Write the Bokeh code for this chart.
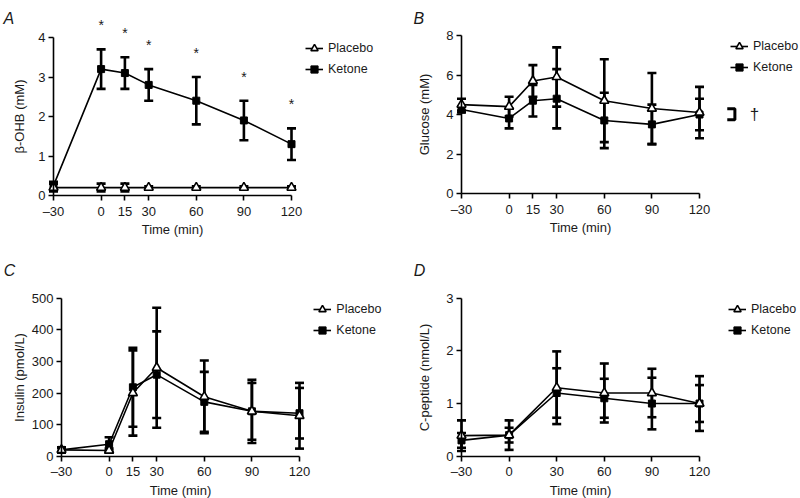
from bokeh.plotting import figure
from bokeh.layouts import gridplot
from bokeh.models import Range1d, FixedTicker, Legend, LegendItem, Label
from bokeh.core.properties import value
from bokeh.embed import file_html
from bokeh.resources import INLINE

# ---------------- data ----------------
times = [-30, 0, 15, 30, 60, 90, 120]
time_ticks = [-30, 0, 15, 30, 60, 90, 120]

bohb_placebo = [0.2, 0.2, 0.2, 0.2, 0.2, 0.2, 0.2]
bohb_placebo_err = [0.1, 0.1, 0.1, 0.03, 0.03, 0.03, 0.03]
bohb_ketone = [0.25, 3.2, 3.1, 2.8, 2.4, 1.9, 1.3]
bohb_ketone_err = [0.1, 0.5, 0.4, 0.4, 0.6, 0.5, 0.4]
bohb_sig_times = [0, 15, 30, 60, 90, 120]

glucose_placebo = [4.5, 4.4, 5.7, 5.9, 4.7, 4.3, 4.1]
glucose_placebo_err = [0.3, 0.5, 0.8, 1.5, 2.1, 1.8, 1.3]
glucose_ketone = [4.25, 3.8, 4.7, 4.8, 3.7, 3.5, 4.0]
glucose_ketone_err = [0.15, 0.5, 0.8, 1.5, 1.4, 1.0, 0.8]
glucose_bracket_x = [137.5, 142.3, 142.3, 137.5]
glucose_bracket_y = [4.29, 4.29, 3.73, 3.73]
glucose_dagger = (154.7, 3.98, "\u2020")

insulin_placebo = [20, 18, 200, 280, 188, 142, 128]
insulin_placebo_err = [8, 6, 135, 190, 115, 100, 104]
insulin_ketone = [20, 38, 218, 258, 172, 142, 136]
insulin_ketone_err = [8, 22, 125, 137, 95, 90, 80]

cpep_times = [-30, 0, 30, 60, 90, 120]
cpep_ticks = [-30, 0, 30, 60, 90, 120]
cpep_placebo = [0.39, 0.40, 1.30, 1.20, 1.20, 1.00]
cpep_placebo_err = [0.29, 0.28, 0.69, 0.56, 0.46, 0.52]
cpep_ketone = [0.30, 0.40, 1.20, 1.10, 1.00, 1.00]
cpep_ketone_err = [0.14, 0.14, 0.47, 0.37, 0.49, 0.35]

# ---------------- geometry (reference pixel -> figure pixel) ----------------
COL_X = [0, 400]
COL_W = [400, 400]
ROW_Y = [0, 250]
ROW_H = [250, 248]
FONT = "Liberation Sans"
TICK_FS = "13px"
LEG_FS = "12.5px"


def make_panel(letter, row, col, ref, yticks, ymax, ylabel, xticks,
               ylab_standoff, legend_ref, letter_ref):
    W, H = COL_W[col], ROW_H[row]
    xoff, yoff = COL_X[col], ROW_Y[row]
    ax = ref["ax"] - xoff
    bx = ref["bx"] - xoff
    c = ref["c"] - yoff
    d = ref["d"] - yoff
    k = (bx - ax) / 150.0
    ky = (c - d) / ymax
    x0 = -30 - ax / k
    x1 = 120 + (W - bx) / k
    y0 = -(H - c) / ky
    y1 = ymax + d / ky
    p = figure(width=W, height=H, output_backend="svg", toolbar_location=None,
               x_range=Range1d(x0, x1), y_range=Range1d(y0, y1),
               min_border_left=0, min_border_right=0,
               min_border_top=0, min_border_bottom=0)
    p.outline_line_color = None
    p.xgrid.visible = False
    p.ygrid.visible = False
    for axis in (p.xaxis[0], p.yaxis[0]):
        axis.axis_line_width = 1.6
        axis.axis_line_color = "black"
        axis.major_tick_line_width = 1.6
        axis.major_tick_line_color = "black"
        axis.major_tick_in = 0
        axis.major_tick_out = 5
        axis.minor_tick_line_color = None
        axis.major_label_text_font = FONT
        axis.major_label_text_font_size = TICK_FS
        axis.major_label_text_color = "#1a1a1a"
        axis.axis_label_text_font = FONT
        axis.axis_label_text_font_size = TICK_FS
        axis.axis_label_text_font_style = "normal"
        axis.axis_label_text_color = "#1a1a1a"
        axis.major_label_standoff = 3
    p.xaxis[0].ticker = FixedTicker(ticks=xticks)
    p.xaxis[0].bounds = (-30, 120)
    p.xaxis[0].fixed_location = 0
    p.xaxis[0].axis_label = "Time (min)"
    p.xaxis[0].axis_label_standoff = 0
    p.xaxis[0].major_label_overrides = {-30: "\u201330"}
    p.yaxis[0].ticker = FixedTicker(ticks=yticks)
    p.yaxis[0].bounds = (0, ymax)
    p.yaxis[0].fixed_location = -30
    p.yaxis[0].axis_label = ylabel
    p.yaxis[0].axis_label_standoff = ylab_standoff

    # legend position (screen, from frame bottom-left)
    lgx = legend_ref[0] - xoff
    top = legend_ref[1] - yoff - 9
    p._leg_loc = (lgx, H - (top + 39))
    # panel letter
    lx = letter_ref[0] - xoff
    ly = letter_ref[1] - yoff
    p.add_layout(Label(x=lx, y=H - ly, x_units="screen", y_units="screen",
                       text=letter, text_font=FONT, text_font_size="16px",
                       text_font_style="italic", text_color="#1a1a1a",
                       text_baseline="alphabetic"))
    return p


def add_series(p, xs, placebo, perr, ketone, kerr):
    up_p = [v + e for v, e in zip(placebo, perr)]
    lo_p = [v - e for v, e in zip(placebo, perr)]
    up_k = [v + e for v, e in zip(ketone, kerr)]
    lo_k = [v - e for v, e in zip(ketone, kerr)]
    for up, lo in ((up_p, lo_p), (up_k, lo_k)):
        p.segment(x0=xs, y0=lo, x1=xs, y1=up, line_color="black", line_width=2.6)
        p.scatter(x=xs, y=up, marker="dash", size=9, line_color="black", line_width=2.6)
        p.scatter(x=xs, y=lo, marker="dash", size=9, line_color="black", line_width=2.6)
    lp = p.line(xs, placebo, line_color="black", line_width=1.6)
    lk = p.line(xs, ketone, line_color="black", line_width=1.6)
    mk = p.scatter(xs, ketone, marker="square", size=7, fill_color="black",
                   line_color="black", line_width=1)
    mp = p.scatter(xs, placebo, marker="triangle", size=9, fill_color="white",
                   line_color="black", line_width=1.6)
    legend = Legend(items=[LegendItem(label="Placebo", renderers=[lp, mp]),
                           LegendItem(label="Ketone", renderers=[lk, mk])],
                    location=p._leg_loc, label_text_font=FONT,
                    label_text_font_size=LEG_FS, label_text_color="#1a1a1a",
                    glyph_width=18, glyph_height=18, label_height=18,
                    spacing=3, padding=0, margin=0, label_standoff=5,
                    border_line_color=None, background_fill_alpha=0)
    p.add_layout(legend)
    return up_k


pA = make_panel("A", 0, 0, dict(ax=53, bx=291, c=195, d=37), [0, 1, 2, 3, 4], 4,
                "\u03b2-OHB (mM)", time_ticks, 8, (305, 48.3), (3, 18.3))
up_k = add_series(pA, times, bohb_placebo, bohb_placebo_err, bohb_ketone, bohb_ketone_err)
sig_y = [u for t, u in zip(times, up_k) if t in bohb_sig_times]
pA.text(x=bohb_sig_times, y=sig_y, text=["*"] * len(bohb_sig_times), text_font=value(FONT),
        text_font_size="14px", text_align="center", text_baseline="middle",
        y_offset=-24, text_color="#1a1a1a")

pB = make_panel("B", 0, 1, dict(ax=461, bx=699, c=193, d=35), [0, 2, 4, 6, 8], 8,
                "Glucose (mM)", time_ticks, 11, (730, 46), (413, 17.7))
add_series(pB, times, glucose_placebo, glucose_placebo_err, glucose_ketone, glucose_ketone_err)
pB.line(glucose_bracket_x, glucose_bracket_y, line_color="black", line_width=3)
pB.text(x=[glucose_dagger[0]], y=[glucose_dagger[1]], text=[glucose_dagger[2]],
        text_font=value(FONT), text_font_size="17px", text_align="center",
        text_baseline="middle", text_color="#1a1a1a")

pC = make_panel("C", 1, 0, dict(ax=61, bx=299, c=455.7, d=297.7),
                [0, 100, 200, 300, 400, 500], 500, "Insulin (pmol/L)", time_ticks, 2,
                (313.3, 309), (3.3, 270))
add_series(pC, times, insulin_placebo, insulin_placebo_err, insulin_ketone, insulin_ketone_err)

pD = make_panel("D", 1, 1, dict(ax=461, bx=699, c=455.7, d=297.7), [0, 1, 2, 3], 3,
                "C-peptide (nmol/L)", cpep_ticks, 11, (728, 309), (413.3, 270))
add_series(pD, cpep_times, cpep_placebo, cpep_placebo_err, cpep_ketone, cpep_ketone_err)

grid = gridplot([[pA, pB], [pC, pD]], toolbar_location=None)
open("out.html", "w").write(file_html(grid, INLINE))
